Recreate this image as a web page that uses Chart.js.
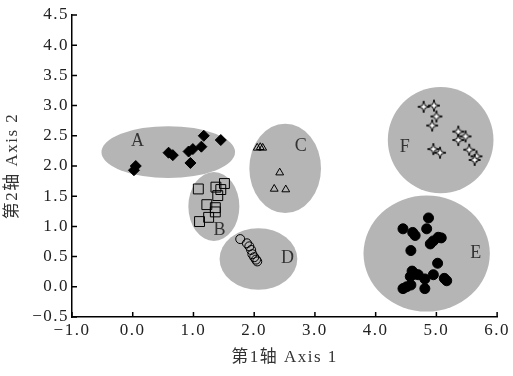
<!DOCTYPE html>
<html>
<head>
<meta charset="utf-8">
<script src="https://cdn.jsdelivr.net/npm/chart.js@4"></script>
<style>
  html, body { margin: 0; padding: 0; background: #fff; }
  #wrap { width: 513px; height: 376px; }
</style>
</head>
<body>
<div id="wrap"><canvas id="myChart"></canvas></div>
<script>
// group points (x = axis 1, y = axis 2)
const groupA = [[0.05, 2.0], [0.02, 1.93], [0.59, 2.22], [0.66, 2.18], [0.92, 2.24], [0.99, 2.28],
    [1.13, 2.32], [1.17, 2.5], [0.95, 2.05], [1.45, 2.43]]
const groupB = [[1.08, 1.62], [1.37, 1.65], [1.51, 1.71], [1.45, 1.61], [1.4, 1.51], [1.22, 1.36],
    [1.36, 1.31], [1.36, 1.24], [1.25, 1.15], [1.1, 1.08]]
const groupC = [[2.05, 2.3], [2.1, 2.31], [2.14, 2.3], [2.42, 1.89], [2.33, 1.62], [2.52, 1.61]]
const groupD = [[1.77, 0.79], [1.88, 0.72], [1.92, 0.67], [1.95, 0.61], [1.97, 0.54], [2.0, 0.49],
    [2.03, 0.45], [2.05, 0.42]]
const groupE = [[4.87, 1.14], [4.45, 0.96], [4.61, 0.9], [4.65, 0.85], [4.84, 0.96], [5.03, 0.82],
    [5.08, 0.81], [4.95, 0.76], [4.9, 0.71], [4.58, 0.6], [5.02, 0.39], [4.6, 0.26], [4.65, 0.21],
    [4.7, 0.2], [4.81, 0.13], [4.95, 0.2], [5.13, 0.14], [5.17, 0.1], [4.58, 0.03], [4.51, 0.0],
    [4.45, -0.03], [4.81, -0.03], [4.57, 0.17]]
const groupF = [[4.79, 2.98], [4.96, 3.0], [5.0, 2.82], [4.93, 2.67], [5.36, 2.57], [5.48, 2.49],
    [5.36, 2.43], [4.95, 2.28], [5.06, 2.22], [5.54, 2.27], [5.66, 2.16], [5.63, 2.1]]

// grey ellipses round each group: centre and half widths, in axis units
const groupNames = ["A", "B", "C", "D", "E", "F"]
const ellipseCenters = [[0.585, 2.23], [1.336, 1.33], [2.51, 1.96], [2.07, 0.46], [4.84, 0.55], [5.07, 2.43]]
const ellipseRadii = [[1.1, 0.43], [0.42, 0.57], [0.59, 0.74], [0.64, 0.51], [1.04, 0.96], [0.87, 0.88]]
const labelPositions = [[0.09, 2.41], [1.44, 0.93], [2.78, 2.32], [2.56, 0.48], [5.66, 0.56], [4.49, 2.31]]

const xTicks = [-1, 0, 1, 2, 3, 4, 5, 6]
const yTicks = [-0.5, 0, 0.5, 1, 1.5, 2, 2.5, 3, 3.5, 4, 4.5]

const SERIF = "'Liberation Serif', 'Noto Sans CJK SC', serif"

function toPoints(arr) {
    return arr.map(p => ({ x: p[0], y: p[1] }))
}

// four pointed star used for group F
function makeStar() {
    const c = document.createElement("canvas")
    c.width = 14
    c.height = 14
    const g = c.getContext("2d")
    const cx = 7, cy = 7, outer = 6, inner = 1.8
    g.beginPath()
    for (let i = 0; i < 8; i++) {
        const r = i % 2 === 0 ? outer : inner
        const a = -Math.PI / 2 + i * Math.PI / 4
        const px = cx + r * Math.cos(a)
        const py = cy + r * Math.sin(a)
        if (i === 0) g.moveTo(px, py)
        else g.lineTo(px, py)
    }
    g.closePath()
    g.fillStyle = "#fff"
    g.fill()
    g.strokeStyle = "#000"
    g.lineWidth = 1
    g.stroke()
    return c
}

const ellipsePlugin = {
    id: "ellipses",
    beforeDatasetsDraw(chart) {
        const { ctx, scales: { x, y } } = chart
        ctx.save()
        ctx.fillStyle = "#b5b5b5"
        ellipseCenters.forEach((c, i) => {
            const px = x.getPixelForValue(c[0])
            const py = y.getPixelForValue(c[1])
            const rx = Math.abs(x.getPixelForValue(c[0] + ellipseRadii[i][0]) - px)
            const ry = Math.abs(y.getPixelForValue(c[1] + ellipseRadii[i][1]) - py)
            ctx.beginPath()
            ctx.ellipse(px, py, rx, ry, 0, 0, Math.PI * 2)
            ctx.fill()
        })
        ctx.fillStyle = "#333"
        ctx.font = "18px " + SERIF
        ctx.textAlign = "center"
        ctx.textBaseline = "middle"
        labelPositions.forEach((p, i) => {
            ctx.fillText(groupNames[i], x.getPixelForValue(p[0]), y.getPixelForValue(p[1]))
        })
        ctx.restore()
    },
    afterDraw(chart) {
        // tick marks point into the plot
        const { ctx, chartArea, scales: { x, y } } = chart
        ctx.save()
        ctx.strokeStyle = "#000"
        ctx.lineWidth = 1.5
        ctx.beginPath()
        xTicks.forEach(v => {
            const px = x.getPixelForValue(v)
            ctx.moveTo(px, chartArea.bottom)
            ctx.lineTo(px, chartArea.bottom - 5)
        })
        yTicks.forEach(v => {
            const py = y.getPixelForValue(v)
            ctx.moveTo(chartArea.left, py)
            ctx.lineTo(chartArea.left + 5, py)
        })
        ctx.stroke()
        ctx.restore()
    }
}

const spacingPlugin = {
    id: "spacing",
    beforeLayout(chart) { chart.ctx.letterSpacing = "1.5px" },
    beforeDraw(chart) { chart.ctx.letterSpacing = "1.5px" }
}

function fmt(v) {
    return (v < 0 ? "\u2212" : "") + Math.abs(v).toFixed(1)
}

new Chart("myChart", {
    type: "scatter",
    data: {
        datasets: [
            { data: toPoints(groupA), pointStyle: "rectRot", pointRadius: 5.5, backgroundColor: "#000", borderColor: "#000", borderWidth: 1 },
            { data: toPoints(groupB), pointStyle: "rect", pointRadius: 7, backgroundColor: "rgba(0,0,0,0)", borderColor: "#000", borderWidth: 1 },
            { data: toPoints(groupC), pointStyle: "triangle", pointRadius: 4.5, backgroundColor: "rgba(0,0,0,0)", borderColor: "#000", borderWidth: 1 },
            { data: toPoints(groupD), pointStyle: "circle", pointRadius: 4.5, backgroundColor: "rgba(0,0,0,0)", borderColor: "#000", borderWidth: 1 },
            { data: toPoints(groupE), pointStyle: "circle", pointRadius: 5, backgroundColor: "#000", borderColor: "#000", borderWidth: 1 },
            { data: toPoints(groupF), pointStyle: makeStar(), pointRadius: 7 }
        ]
    },
    options: {
        responsive: true,
        maintainAspectRatio: false,
        animation: false,
        events: [],
        layout: { padding: { top: 15, right: 14, left: 0, bottom: 0 } },
        plugins: {
            legend: { display: false },
            tooltip: { enabled: false }
        },
        scales: {
            x: {
                type: "linear",
                min: -1,
                max: 6,
                afterBuildTicks: s => { s.ticks = xTicks.map(v => ({ value: v })) },
                afterFit: s => { s.height = 59 },
                grid: { display: false, drawTicks: false },
                border: { display: true, color: "#000", width: 1.5 },
                ticks: { color: "#222", padding: 3, maxRotation: 0, font: { family: SERIF, size: 17 }, callback: v => fmt(v) },
                title: { display: true, text: "第1轴 Axis 1", color: "#333", padding: { top: 0, bottom: 8 }, font: { family: SERIF, size: 17 } }
            },
            y: {
                type: "linear",
                min: -0.5,
                max: 4.5,
                afterBuildTicks: s => { s.ticks = yTicks.map(v => ({ value: v })) },
                afterFit: s => { s.width = 72 },
                grid: { display: false, drawTicks: false },
                border: { display: true, color: "#000", width: 1.5 },
                ticks: { color: "#222", padding: 3, font: { family: SERIF, size: 17 }, callback: v => fmt(v) },
                title: { display: true, text: "第2轴 Axis 2", color: "#333", padding: { top: 2, bottom: 0 }, font: { family: SERIF, size: 17 } }
            }
        }
    },
    plugins: [ellipsePlugin, spacingPlugin]
})
</script>
</body>
</html>
